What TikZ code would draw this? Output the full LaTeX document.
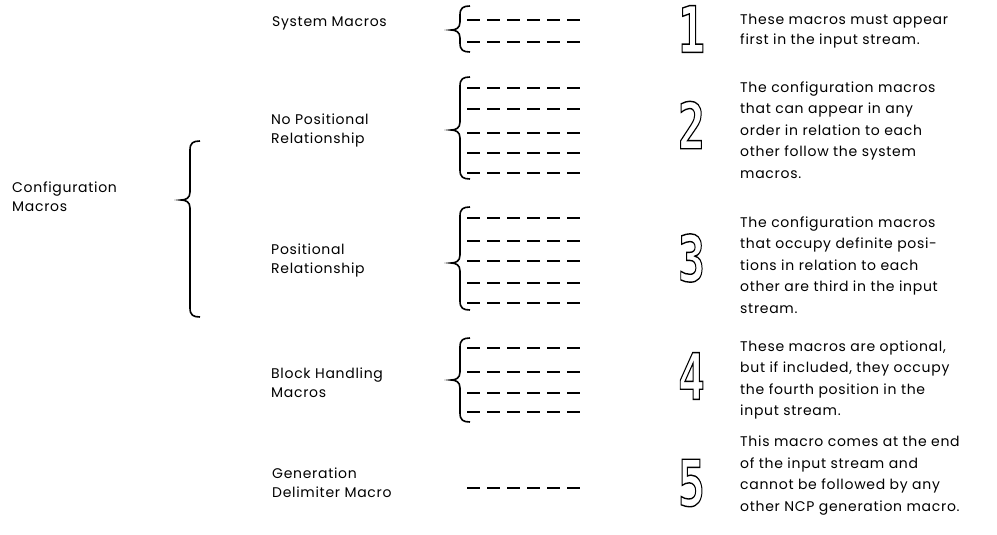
\documentclass[tikz,border=0pt]{standalone}
\usepackage{fontspec}
\setmainfont{Poppins}[LetterSpace=5]
\newfontfamily\digitfont{DejaVu Sans Mono}
\newcommand\outlinetext[1]{\special{pdf:literal direct 1 Tr 1.4 w}#1\special{pdf:literal direct 0 Tr}}
\tikzset{
  dashrow/.style={line width=2.2pt, dash pattern=on 13pt off 7pt},
  bracel/.style={line width=1.6pt},
  lbl/.style={anchor=west, align=left, inner sep=0pt, font=\fontsize{14}{19}\selectfont},
  desc/.style={anchor=west, align=left, inner sep=0pt, font=\fontsize{14}{21.5}\selectfont},
  digit/.style={inner sep=0pt, font=\digitfont\bfseries\fontsize{64}{64}\selectfont, xscale=0.7, transform shape}
}
\newcommand\mybrace[4]{%
\draw[bracel] (#1,#2) .. controls ({#1-7},#2) and ({#1-10},{#2+2}) .. ({#1-10},{#2+9})
 -- ({#1-10},{#3-8}) .. controls ({#1-10},{#3-2}) and ({#1-14},#3) .. ({#1-19},#3)
 .. controls ({#1-14},#3) and ({#1-10},{#3+2}) .. ({#1-10},{#3+8})
 -- ({#1-10},{#4-9}) .. controls ({#1-10},{#4-2}) and ({#1-7},#4) .. (#1,#4);}
\begin{document}
\begin{tikzpicture}[x=1pt,y=-1pt]
\useasboundingbox (0,0) rectangle (997,535);
% left labels
\node[lbl] (conf) at (12,197) {Configuration\\Macros};
\node[lbl] (sys) at (272,23) {System Macros};
\node[lbl] (nopos) at (271,130) {No Positional\\Relationship};
\node[lbl] (pos) at (271,260) {Positional\\Relationship};
\node[lbl] (block) at (271,383) {Block Handling\\Macros};
\node[lbl] (gen) at (272,483) {Generation\\Delimiter Macro};
% big brace
\mybrace{200}{141}{200}{317}
% small braces
\mybrace{470}{6}{30}{52}
\mybrace{470}{77}{130}{179}
\mybrace{470}{207}{263}{310}
\mybrace{470}{338}{380}{422}
% dash rows
\foreach \y in {20,42,88,109,133,153,173,218,241,261,283,303,348,372,393,412,488}
  \draw[dashrow] (467,\y) -- (586,\y);
% digits
\node[digit] (d1) at (691.5,29) {\outlinetext{1}};
\node[digit] (d2) at (691.5,125) {\outlinetext{2}};
\node[digit] (d3) at (691.5,258) {\outlinetext{3}};
\node[digit] (d4) at (691.5,376) {\outlinetext{4}};
\node[digit] (d5) at (691.5,483) {\outlinetext{5}};
% descriptions
\node[desc, font=\fontsize{14}{20}\selectfont] (t1) at (740,31.5) {These macros must appear\\first in the input stream.};
\node[desc] (t2) at (740,130) {The configuration macros\\that can appear in any\\order in relation to each\\other follow the system\\macros.};
\node[desc] (t3) at (740,265) {The configuration macros\\that occupy definite posi-\\tions in relation to each\\other are third in the input\\stream.};
\node[desc] (t4) at (740,380) {These macros are optional,\\but if included, they occupy\\the fourth position in the\\input stream.};
\node[desc] (t5) at (740,475.5) {This macro comes at the end\\of the input stream and\\cannot be followed by any\\other NCP generation macro.};
\end{tikzpicture}
\end{document}
